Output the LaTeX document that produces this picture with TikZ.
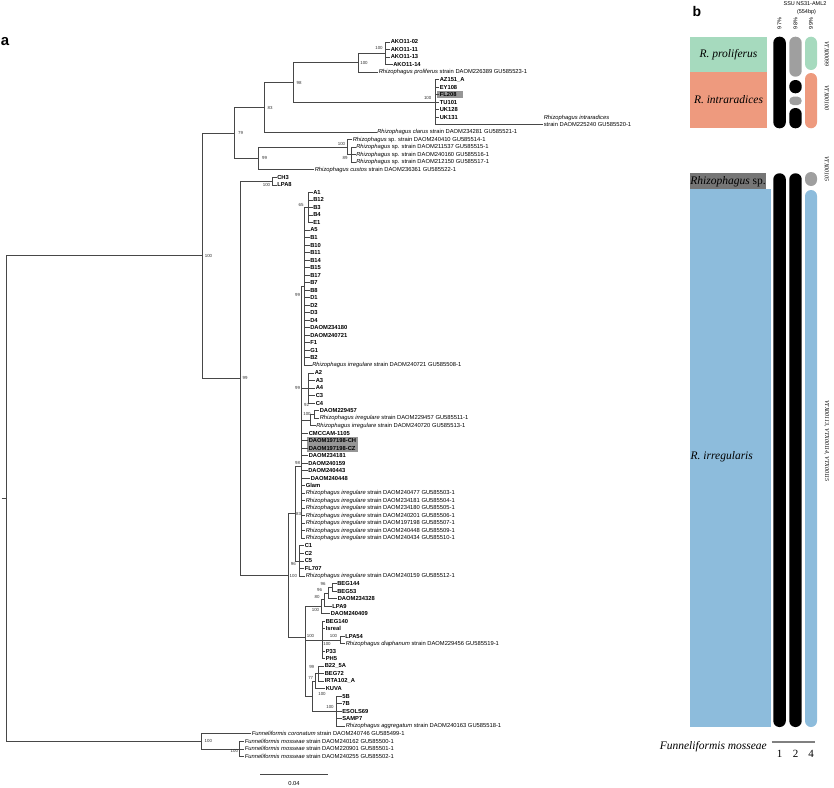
\documentclass[tikz,border=0pt]{standalone}
\usepackage{fontspec}
\setmainfont{Liberation Serif}
\setsansfont{Liberation Sans}
\definecolor{prolif}{RGB}{166,218,190}
\definecolor{intra}{RGB}{238,154,126}
\definecolor{rspbox}{RGB}{118,118,118}
\definecolor{irreg}{RGB}{141,188,220}
\definecolor{hilite}{RGB}{150,150,150}
\newcommand{\strn}[2]{\textit{#1} #2}
\begin{document}
\begin{tikzpicture}[x=1pt,y=-1pt,
  br/.style={draw=black!72, line width=0.7pt},
  iso/.style={anchor=west, inner sep=0.6pt, font=\sffamily\bfseries\fontsize{5.8}{6}\selectfont},
  ref/.style={anchor=west, inner sep=0.6pt, font=\sffamily\fontsize{5.8}{6}\selectfont},
  bs/.style={inner sep=0pt, font=\sffamily\fontsize{4.4}{5}\selectfont, text=black!80},
  clade/.style={inner sep=0pt, font=\rmfamily\itshape\fontsize{11.5}{12}\selectfont},
  hdr/.style={inner sep=0pt, font=\sffamily\fontsize{5.5}{6}\selectfont},
  vtx/.style={inner sep=0pt, rotate=-90, font=\rmfamily\itshape\fontsize{6}{6}\selectfont},
  num/.style={inner sep=0pt, font=\rmfamily\fontsize{11}{11}\selectfont}]
\useasboundingbox (0,0) rectangle (834,787);

%% panel letters
\node[inner sep=0pt, font=\sffamily\bfseries\fontsize{15}{15}\selectfont] (pa) at (5,42) {a};
\node[inner sep=0pt, font=\sffamily\bfseries\fontsize{14}{14}\selectfont] (pb) at (697,11) {b};

%% highlight boxes
\fill[hilite] (436.7,91) rectangle (462.7,98.3);
\fill[hilite] (307.3,436.8) rectangle (358.3,452);

%% internal nodes
\coordinate (rstub) at (1.5,498.5);
\coordinate (nroot) at (6.7,498.5);
\coordinate (n100a) at (202,255.6);
\coordinate (n79) at (234.3,133);
\coordinate (n83) at (264.3,107.3);
\coordinate (n98) at (293.3,82.4);
\coordinate (n100x) at (358.3,62.7);
\coordinate (n100b) at (385,53.3);
\coordinate (n100c) at (435,102.2);
\coordinate (n99a) at (258.3,158.6);
\coordinate (n100d) at (347.5,147.3);
\coordinate (n89) at (351,154.8);
\coordinate (n99b) at (240,378.3);
\coordinate (n100e) at (272,181.1);
\coordinate (n100f) at (288,575.45);
\coordinate (n83b) at (295,513.8);
\coordinate (n98b) at (301,466.7);
\coordinate (n99c) at (304,286.4);
\coordinate (n65) at (308,207.4);
\coordinate (n99d) at (308,387.9);
\coordinate (n92) at (310,419.9);
\coordinate (n100h) at (314,414.3);
\coordinate (n96) at (299,560.9);
\coordinate (nbeg) at (305,637.1);
\coordinate (n100l) at (321,606.5);
\coordinate (n80) at (324.5,599.4);
\coordinate (n96b) at (328,592.9);
\coordinate (n96a) at (332,587.2);
\coordinate (n99e) at (305,667.8);
\coordinate (n100j) at (322,639.85);
\coordinate (n100i) at (340,639.85);
\coordinate (n100n) at (312,696.2);
\coordinate (n77) at (315,681.2);
\coordinate (n99f) at (318,673.7);
\coordinate (n100m) at (336,711.3);
\coordinate (nF) at (201.7,741.4);
\coordinate (n100F) at (239.3,748.9);

%% taxa: proliferus / intraradices
\node[iso] (ako02) at (390,42.0) {AKO11-02};
\node[iso] (ako11) at (390,49.5) {AKO11-11};
\node[iso] (ako13) at (390,57.0) {AKO11-13};
\node[iso] (ako14) at (392.5,64.6) {AKO11-14};
\node[ref] (rprol) at (378,72.1) {\strn{Rhizophagus proliferus}{strain DAOM226389 GU585523-1}};
\node[iso] (az151) at (439,79.6) {AZ151\_A};
\node[iso] (ey108) at (439,87.1) {EY108};
\node[iso] (fl208) at (439,94.6) {FL208};
\node[iso] (tu101) at (439,102.2) {TU101};
\node[iso] (uk128) at (439,109.7) {UK128};
\node[iso] (uk131) at (439,117.2) {UK131};
\node[ref] (rintra) at (543,124.7) {strain DAOM225240 GU585520-1};
\node[ref, anchor=south west] (rintra1) at (rintra.north west) {\textit{Rhizophagus intraradices}};
\node[ref] (rclar) at (376.5,132.2) {\strn{Rhizophagus clarus}{strain DAOM234281 GU585521-1}};
\node[ref] (rsp1) at (352,139.8) {\strn{Rhizophagus}{sp. strain DAOM240410 GU585514-1}};
\node[ref] (rsp2) at (355.5,147.3) {\strn{Rhizophagus}{sp. strain DAOM211537 GU585515-1}};
\node[ref] (rsp3) at (355.5,154.8) {\strn{Rhizophagus}{sp. strain DAOM240160 GU585516-1}};
\node[ref] (rsp4) at (355.5,162.3) {\strn{Rhizophagus}{sp. strain DAOM212150 GU585517-1}};
\node[ref] (rcust) at (314,169.8) {\strn{Rhizophagus custos}{strain DAOM236361 GU585522-1}};

%% taxa: irregularis
\node[iso] (ch3) at (276.5,177.4) {CH3};
\node[iso] (lpa8) at (276.5,184.9) {LPA8};
\node[iso] (a1) at (312.5,192.4) {A1};
\node[iso] (b12) at (312.5,199.9) {B12};
\node[iso] (b3) at (312.5,207.4) {B3};
\node[iso] (b4) at (312.5,215.0) {B4};
\node[iso] (e1) at (312.5,222.5) {E1};
\node[iso] (a5) at (309.5,230.0) {A5};
\node[iso] (b1) at (309.5,237.5) {B1};
\node[iso] (b10) at (309.5,245.0) {B10};
\node[iso] (b11) at (309.5,252.6) {B11};
\node[iso] (b14) at (309.5,260.1) {B14};
\node[iso] (b15) at (309.5,267.6) {B15};
\node[iso] (b17) at (309.5,275.1) {B17};
\node[iso] (b7) at (309.5,282.6) {B7};
\node[iso] (b8) at (309.5,290.2) {B8};
\node[iso] (d1) at (309.5,297.7) {D1};
\node[iso] (d2) at (309.5,305.2) {D2};
\node[iso] (d3) at (309.5,312.7) {D3};
\node[iso] (d4) at (309.5,320.2) {D4};
\node[iso] (d234180) at (309.5,327.8) {DAOM234180};
\node[iso] (d240721) at (309.5,335.3) {DAOM240721};
\node[iso] (f1) at (309.5,342.8) {F1};
\node[iso] (g1) at (309.5,350.3) {G1};
\node[iso] (b2) at (309.5,357.8) {B2};
\node[ref] (rirr1) at (311.5,365.4) {\strn{Rhizophagus irregulare}{strain DAOM240721 GU585508-1}};
\node[iso] (a2) at (314,372.9) {A2};
\node[iso] (a3) at (315,380.4) {A3};
\node[iso] (a4) at (315,387.9) {A4};
\node[iso] (c3) at (315,395.4) {C3};
\node[iso] (c4) at (315,403.0) {C4};
\node[iso] (d229457) at (319,410.5) {DAOM229457};
\node[ref] (rirr2) at (319,418.0) {\strn{Rhizophagus irregulare}{strain DAOM229457 GU585511-1}};
\node[ref] (rirr3) at (315.5,425.5) {\strn{Rhizophagus irregulare}{strain DAOM240720 GU585513-1}};
\node[iso] (cmccam) at (308,433.0) {CMCCAM-1105};
\node[iso] (dch) at (308,440.6) {DAOM197198-CH};
\node[iso] (dcz) at (308,448.1) {DAOM197198-CZ};
\node[iso] (d234181) at (308,455.6) {DAOM234181};
\node[iso] (d240159) at (307.5,463.1) {DAOM240159};
\node[iso] (d240443) at (307.5,470.6) {DAOM240443};
\node[iso] (d240448) at (310,478.2) {DAOM240448};
\node[iso] (glam) at (305,485.7) {Glam};
\node[ref] (rirr4) at (305,493.2) {\strn{Rhizophagus irregulare}{strain DAOM240477 GU585503-1}};
\node[ref] (rirr5) at (305,500.7) {\strn{Rhizophagus irregulare}{strain DAOM234181 GU585504-1}};
\node[ref] (rirr6) at (305,508.2) {\strn{Rhizophagus irregulare}{strain DAOM234180 GU585505-1}};
\node[ref] (rirr7) at (305,515.8) {\strn{Rhizophagus irregulare}{strain DAOM240201 GU585506-1}};
\node[ref] (rirr8) at (305,523.3) {\strn{Rhizophagus irregulare}{strain DAOM197198 GU585507-1}};
\node[ref] (rirr9) at (305,530.8) {\strn{Rhizophagus irregulare}{strain DAOM240448 GU585509-1}};
\node[ref] (rirr10) at (305,538.3) {\strn{Rhizophagus irregulare}{strain DAOM240434 GU585510-1}};
\node[iso] (c1) at (304,545.8) {C1};
\node[iso] (c2) at (304,553.4) {C2};
\node[iso] (c5) at (304,560.9) {C5};
\node[iso] (fl707) at (304,568.4) {FL707};
\node[ref] (rirr11) at (305,575.9) {\strn{Rhizophagus irregulare}{strain DAOM240159 GU585512-1}};

%% taxa: BEG group, aggregatum, diaphanum
\node[iso] (beg144) at (336.5,583.4) {BEG144};
\node[iso] (beg53) at (336.5,591.0) {BEG53};
\node[iso] (d234328) at (337,598.5) {DAOM234328};
\node[iso] (lpa9) at (331.5,606.0) {LPA9};
\node[iso] (d240409) at (330,613.5) {DAOM240409};
\node[iso] (beg140) at (325,621.0) {BEG140};
\node[iso] (isreal) at (325,628.6) {Isreal};
\node[iso] (lpa54) at (344.5,636.1) {LPA54};
\node[ref] (rdiaph) at (345,643.6) {\strn{Rhizophagus diaphanum}{strain DAOM229456 GU585519-1}};
\node[iso] (p33) at (325,651.1) {P33};
\node[iso] (ph5) at (325,658.6) {PH5};
\node[iso] (b22) at (324,666.2) {B22\_5A};
\node[iso] (beg72) at (324,673.7) {BEG72};
\node[iso] (irta) at (324,681.2) {IRTA102\_A};
\node[iso] (kuva) at (325,688.7) {KUVA};
\node[iso] (s5b) at (341.5,696.2) {5B};
\node[iso] (s7b) at (341.5,703.8) {7B};
\node[iso] (esols) at (341.5,711.3) {ESOLS69};
\node[iso] (samp7) at (341.5,718.8) {SAMP7};
\node[ref] (raggr) at (345,726.3) {\strn{Rhizophagus aggregatum}{strain DAOM240163 GU585518-1}};

%% taxa: Funneliformis
\node[ref] (fcor) at (251,733.8) {\strn{Funneliformis coronatum}{strain DAOM240746 GU585499-1}};
\node[ref] (fmos1) at (244,741.4) {\strn{Funneliformis mosseae}{strain DAOM240162 GU585500-1}};
\node[ref] (fmos2) at (244,748.9) {\strn{Funneliformis mosseae}{strain DAOM220901 GU585501-1}};
\node[ref] (fmos3) at (244,756.4) {\strn{Funneliformis mosseae}{strain DAOM240255 GU585502-1}};

%% branches
\draw[br] (rstub) -- (nroot);
\draw[br] (nroot) |- (n100a) (nroot) |- (nF);
\draw[br] (n100a) |- (n79) (n100a) |- (n99b);
\draw[br] (n79) |- (n83) (n79) |- (n99a);
\draw[br] (n83) |- (n98) (n83) |- (rclar.west);
\draw[br] (n98) |- (n100x) (n98) |- (n100c);
\draw[br] (n100x) |- (n100b) (n100x) |- (rprol.west);
\draw[br] (n100b) |- (ako02.west) (n100b) |- (ako11.west) (n100b) |- (ako13.west) (n100b) |- (ako14.west);
\draw[br] (n100c) |- (az151.west) (n100c) |- (ey108.west) (n100c) |- (fl208.west) (n100c) |- (tu101.west)
  (n100c) |- (uk128.west) (n100c) |- (uk131.west) (n100c) |- (rintra.west);
\draw[br] (n99a) |- (n100d) (n99a) |- (rcust.west);
\draw[br] (n100d) |- (rsp1.west) (n100d) |- (n89);
\draw[br] (n89) |- (rsp2.west) (n89) |- (rsp3.west) (n89) |- (rsp4.west);
\draw[br] (n99b) |- (n100e) (n99b) |- (n100f);
\draw[br] (n100e) |- (ch3.west) (n100e) |- (lpa8.west);
\draw[br] (n100f) |- (n83b) (n100f) |- (nbeg);
\draw[br] (n83b) |- (n98b) (n83b) |- (n96);
\draw[br] (n98b) |- (n99c) (n98b) |- (n99d) (n98b) |- (n92);
\draw[br] (n99c) |- (n65);
\draw[br] (n65) |- (a1.west) (n65) |- (b12.west) (n65) |- (b3.west) (n65) |- (b4.west) (n65) |- (e1.west);
\draw[br] (n99c) |- (a5.west) (n99c) |- (b1.west) (n99c) |- (b10.west) (n99c) |- (b11.west)
  (n99c) |- (b14.west) (n99c) |- (b15.west) (n99c) |- (b17.west) (n99c) |- (b7.west)
  (n99c) |- (b8.west) (n99c) |- (d1.west) (n99c) |- (d2.west) (n99c) |- (d3.west)
  (n99c) |- (d4.west) (n99c) |- (d234180.west) (n99c) |- (d240721.west) (n99c) |- (f1.west)
  (n99c) |- (g1.west) (n99c) |- (b2.west) (n99c) |- (rirr1.west);
\draw[br] (n99d) |- (a2.west) (n99d) |- (a3.west) (n99d) |- (a4.west) (n99d) |- (c3.west) (n99d) |- (c4.west);
\draw[br] (n92) |- (n100h) (n92) |- (rirr3.west);
\draw[br] (n100h) |- (d229457.west) (n100h) |- (rirr2.west);
\draw[br] (n98b) |- (cmccam.west) (n98b) |- (dch.west) (n98b) |- (dcz.west) (n98b) |- (d234181.west)
  (n98b) |- (d240159.west) (n98b) |- (d240443.west) (n98b) |- (d240448.west) (n98b) |- (glam.west)
  (n98b) |- (rirr4.west) (n98b) |- (rirr5.west) (n98b) |- (rirr6.west) (n98b) |- (rirr7.west)
  (n98b) |- (rirr8.west) (n98b) |- (rirr9.west) (n98b) |- (rirr10.west);
\draw[br] (n96) |- (c1.west) (n96) |- (c2.west) (n96) |- (c5.west) (n96) |- (fl707.west) (n96) |- (rirr11.west);
\draw[br] (nbeg) |- (n100l) (nbeg) -- (n99e);
\draw[br] (n100l) |- (n80) (n100l) |- (d240409.west);
\draw[br] (n80) |- (n96b) (n80) |- (lpa9.west);
\draw[br] (n96b) |- (n96a) (n96b) |- (d234328.west);
\draw[br] (n96a) |- (beg144.west) (n96a) |- (beg53.west);
\draw[br] (n99e) |- (n100j) (n99e) |- (n100n);
\draw[br] (n100j) |- (beg140.west) (n100j) |- (isreal.west) (n100j) -- (n100i)
  (n100j) |- (p33.west) (n100j) |- (ph5.west);
\draw[br] (n100i) |- (lpa54.west) (n100i) |- (rdiaph.west);
\draw[br] (n100n) |- (n77) (n100n) |- (n100m);
\draw[br] (n77) |- (n99f) (n77) |- (kuva.west);
\draw[br] (n99f) |- (b22.west) (n99f) |- (beg72.west) (n99f) |- (irta.west);
\draw[br] (n100m) |- (s5b.west) (n100m) |- (s7b.west) (n100m) |- (esols.west) (n100m) |- (samp7.west) (n100m) |- (raggr.west);
\draw[br] (nF) |- (fcor.west) (nF) |- (n100F);
\draw[br] (n100F) |- (fmos1.west) (n100F) |- (fmos2.west) (n100F) |- (fmos3.west);

%% bootstrap values
\node[bs] (l100a) at (208.5,256) {100};
\node[bs] (l79) at (240.5,133.3) {79};
\node[bs] (l83) at (270,107.7) {83};
\node[bs] (l98) at (299,82.5) {98};
\node[bs] (l100x) at (364,63.3) {100};
\node[bs] (l100b) at (379,48.3) {100};
\node[bs] (l100c) at (427.7,98.3) {100};
\node[bs] (l99a) at (264.5,158.3) {99};
\node[bs] (l100d) at (341.5,143.5) {100};
\node[bs] (l89) at (345,158.3) {89};
\node[bs] (l100e) at (266.5,185) {100};
\node[bs] (l99b) at (245,378.3) {99};
\node[bs] (l65) at (301,205) {65};
\node[bs] (l99c) at (297.5,295) {99};
\node[bs] (l99d) at (297.5,388) {99};
\node[bs] (l92) at (306.5,404.5) {92};
\node[bs] (l100h) at (307,414) {100};
\node[bs] (l98b) at (297.5,463) {98};
\node[bs] (l83b) at (298.5,514) {83};
\node[bs] (l96) at (293.3,564) {96};
\node[bs] (l100f) at (293.3,576) {100};
\node[bs] (l96a) at (323,584) {96};
\node[bs] (l96b) at (319.5,590) {96};
\node[bs] (l80) at (317,597) {80};
\node[bs] (l100l) at (315.5,609.5) {100};
\node[bs] (lbeg) at (310.5,636) {100};
\node[bs] (l100i) at (333.5,635.7) {100};
\node[bs] (l100j) at (327,643.5) {100};
\node[bs] (l99f) at (311.7,666.7) {99};
\node[bs] (l77) at (310.7,678.3) {77};
\node[bs] (l100n) at (322,694) {100};
\node[bs] (l100m) at (330,707.3) {100};
\node[bs] (lF) at (208.3,741.4) {100};
\node[bs] (l100F) at (234.3,751) {100};

%% scale bar
\coordinate (sb1) at (260,774.3);
\coordinate (sb2) at (328,774.3);
\draw[br] (sb1) -- (sb2);
\node[ref, anchor=center] (sblab) at (294,783) {0.04};

%% panel b: clade boxes
\fill[prolif] (690,36.7) rectangle (767,71.7);
\fill[intra] (690,71.7) rectangle (767,128.3);
\fill[rspbox] (690,173.3) rectangle (766,189.3);
\fill[irreg] (690,189.3) rectangle (771,726.7);
\node[clade] (cprol) at (728.5,54.2) {R. proliferus};
\node[clade] (cintra) at (728.5,100) {R. intraradices};
\node[clade] (crsp) at (728,181.3) {Rhizophagus \textup{sp.}};
\node[clade, anchor=west] (cirr) at (690.5,456.7) {R. irregularis};
\node[clade, anchor=east] (cfun) at (767,746.7) {Funneliformis mosseae};

%% panel b: bars
\fill[black, rounded corners=6pt] (773.3,36.7) rectangle (785.8,128.3);
\fill[black, rounded corners=6pt] (773.3,173.3) rectangle (785.8,727);
\fill[gray!75, rounded corners=6pt] (789.3,36.7) rectangle (801.7,76.7);
\fill[black, rounded corners=6pt] (789.3,80) rectangle (801.7,93.3);
\fill[gray!75, rounded corners=4pt] (789.3,96.7) rectangle (801.7,105);
\fill[black, rounded corners=6pt] (789.3,108) rectangle (801.7,128.3);
\fill[black, rounded corners=6pt] (789.3,173.3) rectangle (801.7,727);
\fill[prolif, rounded corners=6pt] (805,36.7) rectangle (817,70);
\fill[intra, rounded corners=6pt] (805,73) rectangle (817,128.3);
\fill[gray!75, rounded corners=6pt] (805,172) rectangle (817,186);
\fill[irreg, rounded corners=6pt] (805,190) rectangle (817,727);

%% panel b: headers and VTX
\node[hdr] (h1) at (805,3.5) {SSU NS31-AML2};
\node[hdr] (h2) at (806.5,11.7) {(554bp)};
\node[hdr, rotate=90] (p97) at (779.5,23.5) {97\%};
\node[hdr, rotate=90] (p98) at (795.5,23.5) {98\%};
\node[hdr, rotate=90] (p99) at (811,23.5) {99\%};
\node[vtx] (v99) at (826.7,54) {VTX00099};
\node[vtx] (v100) at (826.7,98) {VTX00100};
\node[vtx] (v105) at (826.7,169) {VTX00105};
\node[vtx] (v113) at (826.7,441) {VTX00113, VTX00114, VTX00115};

%% panel b: key
\draw[gray, line width=2pt] (771.7,741.7) -- (815,741.7);
\node[num] (k1) at (779.5,753.5) {1};
\node[num] (k2) at (795.5,753.5) {2};
\node[num] (k4) at (811,753.5) {4};
\end{tikzpicture}
\end{document}
